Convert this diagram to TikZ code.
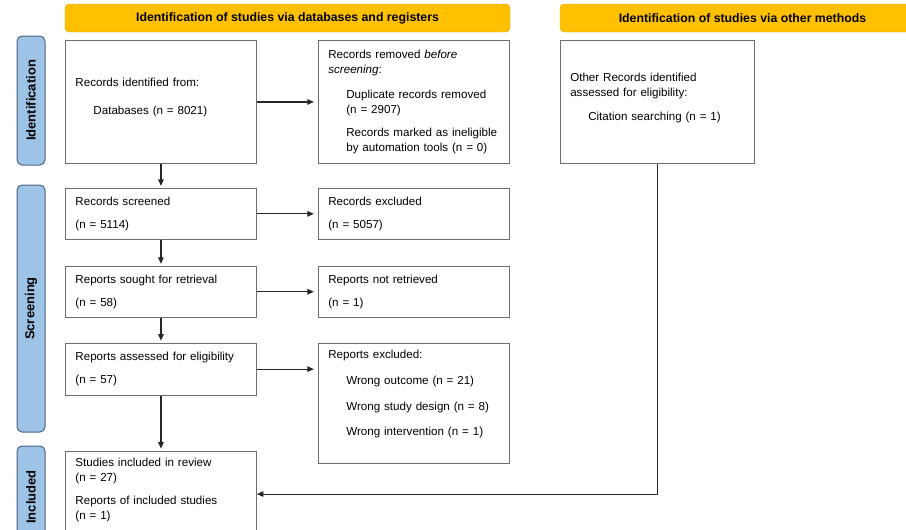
\documentclass[tikz,border=0pt]{standalone}
\usepackage{fontspec}
\setmainfont{Liberation Sans}
\usepackage{xcolor}
\usepackage{tikz}
\usetikzlibrary{arrows.meta,positioning}
\definecolor{cHead}{HTML}{FFC000}
\definecolor{cHeadEdge}{HTML}{E3AA10}
\definecolor{cTab}{HTML}{9DC3E6}
\definecolor{cTabEdge}{HTML}{4D6680}
\definecolor{cBox}{HTML}{6E6E6E}
\newcommand{\boxfont}{\fontsize{11.6}{15}\selectfont}
\newcommand{\ind}{\hspace*{18pt}}
\tikzset{
  node distance=24pt and 61pt,
  box/.style  ={rectangle, draw=cBox, line width=0.9pt, fill=white, align=left,
                text width=171pt, inner xsep=10pt, font=\boxfont},
  hdr/.style  ={rectangle, rounded corners=4pt, draw=cHeadEdge, fill=cHead,
                font=\fontsize{12.3}{14}\selectfont\bfseries, minimum height=28pt, inner sep=0pt},
  tab/.style  ={rectangle, rounded corners=5pt, draw=cTabEdge, line width=1pt, fill=cTab,
                rotate=90, font=\fontsize{13}{14}\selectfont\bfseries, minimum height=28pt, inner sep=0pt},
  fl/.style   ={-{Triangle[length=6.5pt,width=5.5pt]}, line width=1.1pt, draw=black!85},
}
\begin{document}
\begin{tikzpicture}[x=1pt,y=-1pt]
  \useasboundingbox[fill=white] (0,0) rectangle (906,530);
  \node[hdr, minimum width=445pt] (hdb) at (287.5,18) {Identification of studies via databases and registers};
  \node[hdr, minimum width=365pt] (hot) at (742.5,18) {Identification of studies via other methods};
  \node[tab, minimum width=129pt] (tid) at (31,100.5) {Identification};
  \node[tab, minimum width=247pt] (tsc) at (31,308.5) {Screening};
  \node[tab, minimum width=102pt] (tin) at (31,497) {Included};

  \node[box, minimum height=123pt, anchor=north west] (idn) at (65,40)
    {Records identified from:\\[13pt]\ind Databases (n = 8021)\rule[-11pt]{0pt}{0pt}};
  \node[box, minimum height=123pt, right=of idn] (rem)
    {Records removed \textit{before}\\\textit{screening}:\\[10pt]\ind Duplicate records removed\\\ind (n = 2907)\\[8pt]\ind Records marked as ineligible\\\ind by automation tools (n = 0)};
  \node[box, minimum height=123pt, text width=174pt, right=50pt of rem] (oth)
    {Other Records identified\\assessed for eligibility:\\[9pt]\ind Citation searching (n = 1)\rule[-11pt]{0pt}{0pt}};
  \node[box, minimum height=51pt, below=of idn] (scr) {Records screened\\[8pt](n = 5114)};
  \node[box, minimum height=51pt, right=of scr] (exc) {Records excluded\\[8pt](n = 5057)};
  \node[box, minimum height=51pt, below=26pt of scr] (ret) {Reports sought for retrieval\\[8pt](n = 58)};
  \node[box, minimum height=51pt, right=of ret] (nre) {Reports not retrieved\\[8pt](n = 1)};
  \node[box, minimum height=52pt, below=25pt of ret] (asd) {Reports assessed for eligibility\\[8pt](n = 57)};
  \node[box, inner ysep=7pt, right=of asd.north east, anchor=north west] (rex)
    {Reports excluded:\\[11pt]\ind Wrong outcome (n = 21)\\[11pt]\ind Wrong study design (n = 8)\\[10pt]\ind Wrong intervention (n = 1)\rule[-21pt]{0pt}{0pt}};
  \node[box, minimum height=86pt, below=55pt of asd] (inc)
    {Studies included in review\\(n = 27)\\[8pt]Reports of included studies\\(n = 1)\rule[-10pt]{0pt}{0pt}};

  \draw[fl,shorten >=2pt](idn)--(scr);\draw[fl,shorten >=4pt](idn)--(rem);
  \draw[fl,shorten >=2pt](scr)--(ret);\draw[fl,shorten >=4pt](scr)--(exc);
  \draw[fl,shorten >=2pt](ret)--(asd);\draw[fl,shorten >=4pt](ret)--(nre);
  \draw[fl,shorten >=2pt](asd)--(inc);\draw[fl,shorten >=4pt](asd)--(asd-|rex.west);
  \draw[fl](oth.south)|-(inc.east);
\end{tikzpicture}
\end{document}
